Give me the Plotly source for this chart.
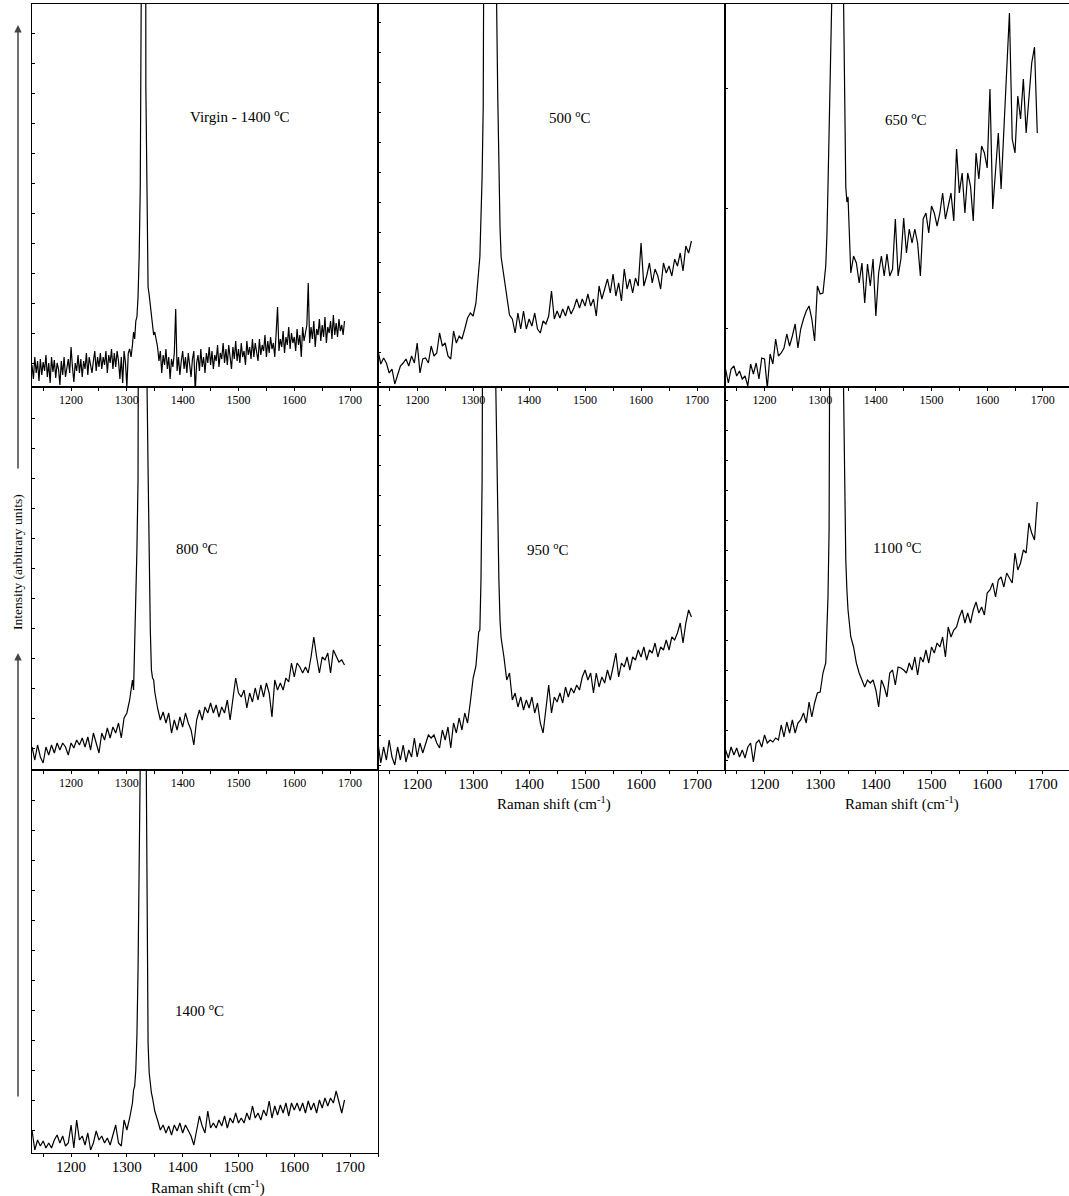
import plotly.graph_objects as go

# Raman shift grid (cm^-1): coarse baseline, fine around the diamond line
WAVENUMBER = [
    1130, 1135, 1140, 1145, 1150, 1155, 1160, 1165, 1170, 1175, 1180, 1185, 1190,
    1195, 1200, 1205, 1210, 1215, 1220, 1225, 1230, 1235, 1240, 1245, 1250, 1255,
    1260, 1265, 1270, 1275, 1280, 1285, 1290, 1295, 1300, 1305, 1310,
    1312, 1314, 1316, 1318, 1320, 1322, 1324, 1326, 1328, 1330, 1332, 1334, 1336,
    1338, 1340, 1342, 1344, 1346, 1348, 1350,
    1355, 1360, 1365, 1370, 1375, 1380, 1385, 1390, 1395, 1400, 1405, 1410, 1415,
    1420, 1425, 1430, 1435, 1440, 1445, 1450, 1455, 1460, 1465, 1470, 1475, 1480,
    1485, 1490, 1495, 1500, 1505, 1510, 1515, 1520, 1525, 1530, 1535, 1540, 1545,
    1550, 1555, 1560, 1565, 1570, 1575, 1580, 1585, 1590, 1595, 1600, 1605, 1610,
    1615, 1620, 1625, 1630, 1635, 1640, 1645, 1650, 1655, 1660, 1665, 1670, 1675,
    1680, 1685, 1690,
]

# the virgin sample was recorded on a finer grid
WAVENUMBER_VIRGIN = [
    1130, 1132.5, 1135, 1137.5, 1140, 1142.5, 1145, 1147.5, 1150, 1152.5,
    1155, 1157.5, 1160, 1162.5, 1165, 1167.5, 1170, 1172.5, 1175, 1177.5,
    1180, 1182.5, 1185, 1187.5, 1190, 1192.5, 1195, 1197.5, 1200, 1202.5,
    1205, 1207.5, 1210, 1212.5, 1215, 1217.5, 1220, 1222.5, 1225, 1227.5,
    1230, 1232.5, 1235, 1237.5, 1240, 1242.5, 1245, 1247.5, 1250, 1252.5,
    1255, 1257.5, 1260, 1262.5, 1265, 1267.5, 1270, 1272.5, 1275, 1277.5,
    1280, 1282.5, 1285, 1287.5, 1290, 1292.5, 1295, 1297.5, 1300, 1302.5,
    1305, 1307.5, 1310,
    1312, 1314, 1316, 1318, 1320, 1322, 1324, 1326, 1328, 1330, 1332, 1334, 1336,
    1338, 1340, 1342, 1344, 1346, 1348, 1350,
    1352.5, 1355, 1357.5, 1360, 1362.5, 1365, 1367.5, 1370, 1372.5, 1375,
    1377.5, 1380, 1382.5, 1385, 1387.5, 1390, 1392.5, 1395, 1397.5, 1400,
    1402.5, 1405, 1407.5, 1410, 1412.5, 1415, 1417.5, 1420, 1422.5, 1425,
    1427.5, 1430, 1432.5, 1435, 1437.5, 1440, 1442.5, 1445, 1447.5, 1450,
    1452.5, 1455, 1457.5, 1460, 1462.5, 1465, 1467.5, 1470, 1472.5, 1475,
    1477.5, 1480, 1482.5, 1485, 1487.5, 1490, 1492.5, 1495, 1497.5, 1500,
    1502.5, 1505, 1507.5, 1510, 1512.5, 1515, 1517.5, 1520, 1522.5, 1525,
    1527.5, 1530, 1532.5, 1535, 1537.5, 1540, 1542.5, 1545, 1547.5, 1550,
    1552.5, 1555, 1557.5, 1560, 1562.5, 1565, 1567.5, 1570, 1572.5, 1575,
    1577.5, 1580, 1582.5, 1585, 1587.5, 1590, 1592.5, 1595, 1597.5, 1600,
    1602.5, 1605, 1607.5, 1610, 1612.5, 1615, 1617.5, 1620, 1622.5, 1625,
    1627.5, 1630, 1632.5, 1635, 1637.5, 1640, 1642.5, 1645, 1647.5, 1650,
    1652.5, 1655, 1657.5, 1660, 1662.5, 1665, 1667.5, 1670, 1672.5, 1675,
    1677.5, 1680, 1682.5, 1685, 1687.5, 1690,
]

# Intensities (arbitrary units)
INT_VIRGIN = [
    22, 8, 30, 14, 26, 6, 28, 12, 25, 16,
    32, 10, 24, 4, 30, 15, 27, 9, 24, 18,
    2, 26, 12, 30, 10, 22, 28, 14, 40, 20,
    5, 24, 16, 32, 14, 28, 10, 26, 18, 34,
    12, 30, 20, 14, 26, 36, 16, 30, 20, 34,
    18, 30, 22, 36, 14, 32, 24, 38, 18, 34,
    20, 36, 26, 8, 30, 4, 36, 24, 0, 34,
    38, 30, 42,
    55, 48, 66, 70, 90, 130, 200, 420, 1500, 3000, 1800, 300, 160, 100, 92, 80, 68,
    60, 52, 55,
    48, 40, 26, 36, 14, 32, 22, 38, 18, 30,
    8, 28, 20, 34, 78, 16, 30, 12, 26, 36,
    18, 30, 14, 34, 22, 10, 28, 36, -5, 24,
    32, 16, 38, 20, 30, 14, 34, 24, 40, 22,
    36, 18, 32, 26, 42, 20, 34, 28, 44, 24,
    38, 22, 42, 30, 18, 40, 28, 46, 26, 38,
    24, 44, 30, 36, 22, 46, 32, 40, 28, 48,
    30, 44, 34, 26, 48, 32, 42, 36, 52, 30,
    46, 34, 50, 38, 44, 30, 54, 80, 36, 48,
    40, 56, 34, 50, 42, 60, 38, 54, 44, 50,
    36, 58, 42, 52, 30, 60, 46, 56, 62, 104,
    44, 60, 48, 66, 40, 58, 52, 68, 46, 62,
    50, 70, 44, 60, 54, 66, 48, 72, 52, 64,
    50, 68, 56, 62, 52, 66,
]
INT_500 = [
    36, 23, 29, 24, 14, 18, 3, 11, 21, 24, 28, 21, 31, 24, 44, 14, 28, 29, 24, 41,
    31, 34, 54, 41, 44, 31, 28, 56, 44, 51, 48, 58, 69, 74, 71, 84, 118,
    130, 170, 210, 280, 350, 430, 900, 1500, 2000, 2200, 2100, 1600, 1100, 800, 520,
    380, 290, 220, 160, 130,
    110, 88, 72, 68, 54, 74, 58, 76, 58, 68, 61, 74, 58, 54, 66, 63, 71, 96, 68, 76,
    69, 78, 71, 81, 73, 79, 88, 79, 88, 81, 93, 81, 88, 71, 101, 88, 98, 108, 94,
    113, 91, 104, 86, 118, 98, 108, 94, 109, 101, 144, 101, 111, 124, 104, 118, 111,
    98, 124, 114, 121, 111, 128, 121, 134, 116, 141, 134, 146,
]
INT_650 = [
    18, 4, 18, 21, 11, 16, 8, 11, 1, 23, 13, 24, 8, 29, 28, -1, 33, 23, 48, 31, 34,
    39, 53, 41, 51, 63, 39, 58, 68, 76, 81, 68, 46, 101, 93, 94, 121,
    150, 200, 250, 290, 340, 420, 1200, 2000, 2600, 2600, 2400, 1800, 1200, 800, 480,
    360, 260, 200, 185, 190,
    114, 131, 124, 104, 124, 84, 123, 101, 128, 71, 114, 131, 111, 133, 111, 118,
    168, 111, 128, 169, 134, 158, 144, 158, 144, 111, 168, 174, 154, 181, 174, 161,
    174, 194, 168, 181, 194, 166, 238, 194, 214, 174, 214, 201, 166, 234, 208, 241,
    234, 219, 298, 178, 214, 254, 198, 263, 316, 374, 248, 234, 291, 268, 308, 254,
    294, 324, 340, 254,
]
INT_800 = [
    23, 10, 25, 13, 7, 23, 15, 25, 17, 27, 20, 27, 23, 15, 27, 22, 30, 25, 32, 23,
    33, 20, 37, 27, 17, 37, 30, 42, 32, 43, 37, 47, 32, 52, 57, 70, 90,
    80, 120, 160, 220, 290, 380, 900, 1800, 2600, 3000, 2400, 1200, 390, 300, 200,
    140, 100, 92, 90, 78,
    62, 50, 58, 47, 57, 37, 50, 40, 53, 43, 57, 47, 40, 25, 50, 60, 50, 63, 57, 67,
    57, 65, 53, 63, 57, 70, 50, 70, 92, 77, 73, 80, 62, 77, 68, 82, 70, 85, 73, 87,
    77, 53, 90, 80, 87, 80, 92, 88, 107, 93, 107, 103, 97, 103, 97, 113, 133, 113,
    97, 113, 110, 117, 97, 120, 113, 108, 110, 105,
]
INT_950 = [
    27, 7, 23, 10, 30, 13, 5, 23, 10, 25, 8, 20, 13, 32, 13, 27, 17, 27, 35, 32, 35,
    27, 22, 40, 30, 43, 22, 47, 37, 52, 40, 57, 47, 68, 92, 104, 138,
    140, 190, 290, 360, 450, 1000, 1600, 2200, 2500, 2600, 2500, 2000, 1300, 700,
    400, 330, 250, 190, 150, 132,
    113, 90, 97, 70, 77, 63, 73, 60, 70, 62, 73, 57, 67, 47, 37, 60, 85, 57, 73, 68,
    77, 67, 83, 73, 82, 77, 85, 80, 93, 100, 90, 97, 77, 97, 83, 93, 87, 100, 90,
    103, 117, 93, 107, 103, 113, 100, 113, 110, 120, 113, 123, 110, 120, 117, 127,
    113, 123, 120, 130, 120, 133, 130, 137, 147, 127, 147, 160, 153,
]
INT_1100 = [
    20, 12, 23, 15, 22, 13, 20, 12, 23, 27, 8, 27, 30, 23, 35, 27, 30, 28, 32, 30,
    45, 33, 48, 37, 50, 37, 47, 50, 57, 47, 68, 53, 67, 77, 78, 97, 107,
    137, 173, 240, 300, 360, 600, 1400, 2000, 2500, 2600, 2500, 2100, 1500, 900, 550,
    380, 280, 210, 180, 160,
    133, 123, 107, 97, 90, 83, 90, 87, 90, 80, 63, 90, 83, 73, 97, 100, 85, 103, 102,
    100, 97, 107, 100, 113, 95, 113, 108, 120, 107, 123, 117, 127, 123, 133, 113,
    143, 133, 140, 143, 153, 160, 147, 157, 147, 160, 168, 157, 163, 155, 177, 180,
    187, 173, 190, 193, 183, 197, 192, 187, 217, 200, 207, 220, 217, 247, 237, 230,
    268,
]
INT_1400 = [
    23, 3, 13, 7, 12, 5, 10, 5, 13, 18, 10, 17, 7, 10, 28, 5, 33, 13, 17, 8, 20, 3,
    10, 22, 13, 17, 10, 15, 8, 17, 28, 10, 7, 33, 23, 35, 50,
    63, 67, 83, 117, 183, 283, 390, 1200, 2400, 3000, 2000, 450, 220, 110, 80, 68,
    60, 55, 48, 42,
    33, 23, 28, 20, 27, 18, 28, 22, 30, 20, 28, 22, 17, 8, 23, 37, 27, 20, 42, 25,
    30, 25, 33, 27, 37, 25, 35, 30, 40, 30, 35, 30, 40, 33, 47, 35, 40, 33, 43, 37,
    52, 35, 47, 38, 48, 40, 50, 37, 50, 43, 50, 42, 50, 40, 52, 43, 50, 40, 53, 45,
    55, 47, 55, 50, 62, 50, 40, 53,
]

LABELS = ["Virgin - 1400 <sup>o</sup>C", "500 <sup>o</sup>C", "650 <sup>o</sup>C",
          "800 <sup>o</sup>C", "950 <sup>o</sup>C", "1100 <sup>o</sup>C",
          "1400 <sup>o</sup>C"]
SERIES = [INT_VIRGIN, INT_500, INT_650, INT_800, INT_950, INT_1100, INT_1400]
SHIFTS = [WAVENUMBER_VIRGIN] + [WAVENUMBER] * 6

# ---------------- layout geometry (pixels) ----------------
W, H = 1069, 1196
COLS = [(32, 378), (378, 725), (725, 1069)]
ROWS = [(4, 387), (387, 770), (770, 1153)]
XRANGES = [(1130, 1750), (1130, 1750), (1129, 1747)]
# (row, col, y tick0, y dtick, big x labels?, label x (cm-1), label y)
PANEL_POS = [
    (0, 0, 24, 30, False, 1502, 271),
    (0, 1, 5, 30, False, 1473, 270),
    (0, 2, 59, 120, False, 1454, 268),
    (1, 0, 22, 30, False, 1425, 222),
    (1, 1, 5, 30, True, 1434, 221),
    (1, 2, 10, 30, True, 1438, 223),
    (2, 0, 23, 30, True, 1430, 143),
]
FONT = "Liberation Serif"

fig = go.Figure()
layout = dict(
    width=W, height=H, margin=dict(l=0, r=0, t=0, b=0),
    paper_bgcolor="white", plot_bgcolor="white", showlegend=False,
    font=dict(family=FONT, color="black"),
)
annotations = []

for i, (xs, series, label, pos) in enumerate(zip(SHIFTS, SERIES, LABELS, PANEL_POS)):
    r, c, t0, dt, big, lx, ly = pos
    n = i + 1
    fig.add_trace(go.Scatter(
        x=xs, y=series, mode="lines",
        line=dict(color="black", width=1.2),
        xaxis=f"x{n}", yaxis=f"y{n}", hoverinfo="skip",
    ))
    x0, x1 = COLS[c]
    y0, y1 = ROWS[r]
    layout["xaxis" if n == 1 else f"xaxis{n}"] = dict(
        domain=[x0 / W, x1 / W], range=list(XRANGES[c]), anchor=f"y{n}",
        showline=True, mirror=True, linecolor="black", linewidth=1,
        ticks="outside", ticklen=3, tickcolor="black", tickwidth=1,
        tick0=1200, dtick=100, showgrid=False, zeroline=False,
        tickfont=dict(family=FONT, size=15 if big else 12, color="black"),
        ticklabelstandoff=-3 if big else -1,
        minor=dict(tick0=1150, dtick=50, ticks="outside", ticklen=3,
                   tickcolor="black", showgrid=False),
    )
    layout["yaxis" if n == 1 else f"yaxis{n}"] = dict(
        domain=[1 - y1 / H, 1 - y0 / H], range=[0, y1 - y0], anchor=f"x{n}",
        showline=True, mirror=(c != 2), linecolor="black", linewidth=1,
        ticks="inside", ticklen=3, tickcolor="black", tick0=t0, dtick=dt,
        showticklabels=False, showgrid=False, zeroline=False,
    )
    annotations.append(dict(
        x=lx, y=ly, xref=f"x{n}", yref=f"y{n}", text=label, showarrow=False,
        font=dict(family=FONT, size=15, color="black"),
        xanchor="center", yanchor="middle",
    ))

# right-hand tick row of the lone bottom panel
y0, y1 = ROWS[2]
layout["yaxis8"] = dict(
    overlaying="y7", side="right", anchor="x7", range=[0, y1 - y0],
    showline=False, ticks="outside", ticklen=3, tickcolor="black",
    tick0=38, dtick=38.3, showticklabels=False, showgrid=False, zeroline=False,
)

# x-axis titles
for cx, cy in [(554, 803), (902, 803), (208, 1187)]:
    annotations.append(dict(
        x=cx / W, y=1 - cy / H, xref="paper", yref="paper",
        text="Raman shift (cm<sup>-1</sup>)", showarrow=False,
        font=dict(family=FONT, size=15, color="black"),
        xanchor="center", yanchor="middle",
    ))

# y-axis title and the two arrows
annotations.append(dict(
    x=17 / W, y=1 - 562 / H, xref="paper", yref="paper",
    text="Intensity (arbitrary units)", textangle=-90, showarrow=False,
    font=dict(family=FONT, size=13.5, color="black"),
    xanchor="center", yanchor="middle",
))
for head, tail in [(25, 470), (653, 1098)]:
    annotations.append(dict(
        x=18 / W, y=1 - head / H, xref="paper", yref="paper", text="",
        showarrow=True, ax=0, ay=tail - head, axref="pixel", ayref="pixel",
        arrowhead=2, arrowsize=1, arrowwidth=1.5, arrowcolor="#444",
    ))

layout["annotations"] = annotations
fig.update_layout(**layout)
fig.write_html("out.html",
               config={"displayModeBar": False},
               post_script="document.body.style.margin='0';"
                           "document.body.style.overflow='hidden';")
